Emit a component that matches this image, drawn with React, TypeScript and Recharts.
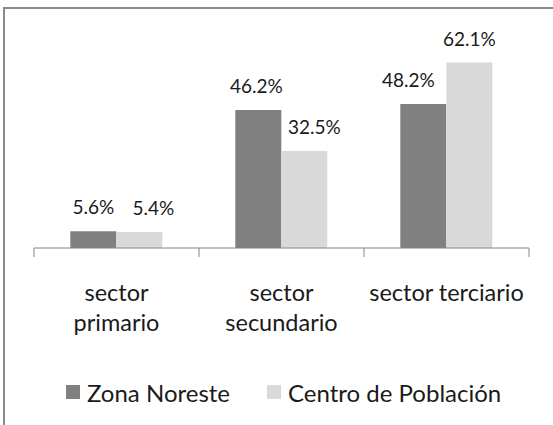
import { BarChart, Bar, XAxis, YAxis, Legend, LabelList } from 'recharts';

const categories = ['sector primario', 'sector secundario', 'sector terciario'];
const tickLabels = [['sector', 'primario'], ['sector', 'secundario'], ['sector terciario']];
const seriesNames = ['Zona Noreste', 'Centro de Población'];
const zonaNoreste = [5.6, 46.2, 48.2];
const centroPoblacion = [5.4, 32.5, 62.1];
const seriesColors = ['#808080', '#d9d9d9'];

const data = categories.map((name, i) => ({
  name,
  zona: zonaNoreste[i],
  centro: centroPoblacion[i],
}));

const W = 553;
const H = 425;
const margin = { top: 39, right: 24, left: 34, bottom: 0 };
const BAND = (W - margin.left - margin.right) / categories.length;
const FONT = 'Lato, sans-serif';
const AXIS_GRAY = '#868686';
const TEXT = '#1a1a1a';
// excel pushed a few labels sideways so they don't collide
const labelNudge = [
  [0, -2, -15],
  [14, 10, 0],
];

function CategoryTick(props: any) {
  const { x, y, index } = props;
  const lines = tickLabels[index] || [];
  return (
    <g>
      <line x1={x - BAND / 2} y1={y} x2={x - BAND / 2} y2={y + 9} stroke={AXIS_GRAY} />
      {index === categories.length - 1 && (
        <line x1={x + BAND / 2} y1={y} x2={x + BAND / 2} y2={y + 9} stroke={AXIS_GRAY} />
      )}
      {lines.map((l, i) => (
        <text
          key={i}
          x={x}
          y={y + 44 + i * 30}
          textAnchor="middle"
          dominantBaseline="central"
          fontSize={23.5}
          fill={TEXT}
          fontFamily={FONT}
        >
          {l}
        </text>
      ))}
    </g>
  );
}

const makeLabel = (series: number) => (props: any) => {
  const { x, y, width, value, index } = props;
  return (
    <text
      x={x + width / 2 + labelNudge[series][index]}
      y={y - 17}
      textAnchor="middle"
      fontSize={19}
      fill={TEXT}
      fontFamily={FONT}
    >
      {`${Number(value).toFixed(1)}%`}
    </text>
  );
};

function renderLegend() {
  return (
    <div style={{ display: 'flex', alignItems: 'center', height: 30, fontFamily: FONT, fontSize: 24, color: TEXT }}>
      {seriesNames.map((s, i) => (
        <div key={s} style={{ display: 'flex', alignItems: 'center', marginRight: 37 }}>
          <span style={{ display: 'inline-block', width: 14, height: 14, background: seriesColors[i], marginRight: 7 }} />
          <span>{s}</span>
        </div>
      ))}
    </div>
  );
}

export default function App() {
  return (
    <div style={{ position: 'absolute', left: 0, top: 0, width: W, height: H, background: '#fff' }}>
      <div
        style={{
          position: 'absolute',
          left: 3,
          top: 7,
          width: W,
          height: H,
          borderLeft: '2px solid #8a8a8a',
          borderTop: '2px solid #8a8a8a',
          boxSizing: 'border-box',
        }}
      />
      <BarChart
        width={W}
        height={H}
        data={data}
        margin={margin}
        barCategoryGap="22%"
        barGap={0}
        style={{ fontFamily: FONT }}
      >
        <XAxis
          dataKey="name"
          height={147}
          axisLine={{ stroke: AXIS_GRAY }}
          tickLine={false}
          tickSize={0}
          tickMargin={0}
          interval={0}
          tick={<CategoryTick />}
        />
        <YAxis domain={[0, 70]} width={0} tick={false} tickLine={false} axisLine={{ stroke: AXIS_GRAY }} />
        <Legend content={renderLegend} wrapperStyle={{ left: 66, top: 377, width: 480 }} />
        <Bar dataKey="zona" name={seriesNames[0]} fill={seriesColors[0]} isAnimationActive={false}>
          <LabelList dataKey="zona" content={makeLabel(0)} />
        </Bar>
        <Bar dataKey="centro" name={seriesNames[1]} fill={seriesColors[1]} isAnimationActive={false}>
          <LabelList dataKey="centro" content={makeLabel(1)} />
        </Bar>
      </BarChart>
    </div>
  );
}
